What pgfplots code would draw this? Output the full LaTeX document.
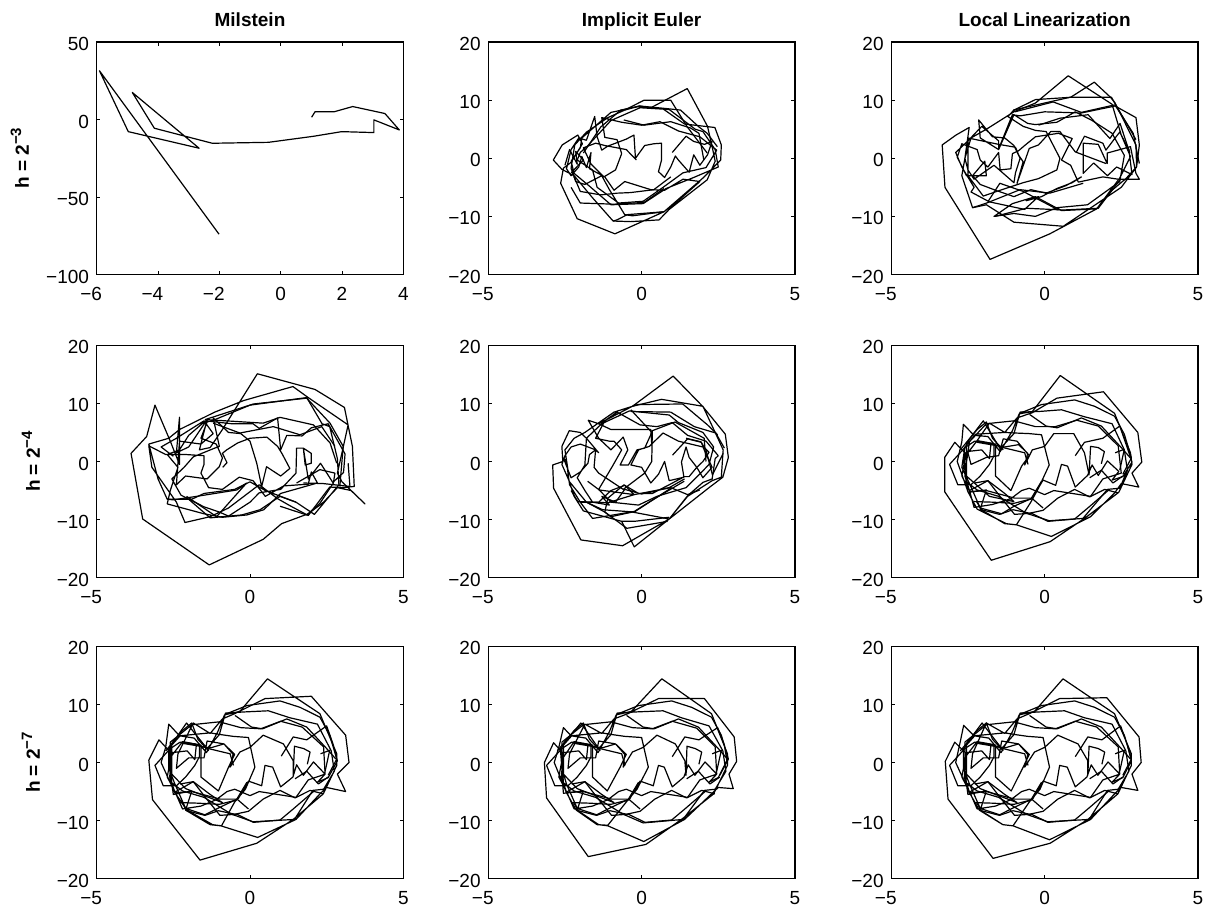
\documentclass[border=0pt]{standalone}
\usepackage{fontspec}
\setmainfont{Liberation Sans}
\usepackage{pgfplots}
\pgfplotsset{compat=1.18}
\pgfplotsset{
  panel/.style={
    scale only axis, width=306.6pt, height=232.4pt, anchor=south west,
    xmin=-5, xmax=5, ymin=-20, ymax=20,
    xtick={-5,0,5}, xticklabels={\llap{−}5,0,5},
    ytick={-20,-10,0,10,20}, yticklabels={−20,−10,0,10,20},
    tick align=inside, major tick length=3.5pt, tick style={black,line width=0.9pt},
    axis line style={line width=1.3pt},
    tick label style={font=\fontsize{19}{22}\selectfont},
    xticklabel style={anchor=north, inner sep=0pt, yshift=-12.5pt},
    yticklabel style={anchor=east, inner sep=0pt, xshift=-7.5pt, yshift=-2pt},
    title style={font=\fontsize{19}{22}\selectfont\bfseries, anchor=base, at={(axis description cs:0.5,1)}, yshift=9.5pt},
    every axis y label/.append style={at={(axis description cs:0,0.5)}, anchor=base},
    ylabel style={font=\fontsize{19}{22}\selectfont\bfseries},
  },
  tr/.style={black, line width=1.2pt, line join=round, mark=none}
}
\newcommand{\hl}[1]{h = 2\raisebox{0.42em}{\fontsize{15}{15}\selectfont −#1}}
\newcommand{\extraR}{%
\addplot[tr] coordinates {(-2.45,-5.2)(-1.9,-5)(-0.98,-6.3)(-0.43,-6.3)(-0.1,-3.4)};
\addplot[tr] coordinates {(-2.23,-6.8)(-2.06,-8.3)(-1.47,-9.1)(-1.03,-8.3)(-0.49,-8.9)(-0.05,-8.4)(0.43,-6.3)(0.98,-4.8)(1.47,-6.1)(1.96,-4.8)(2.39,-5.4)};
\addplot[tr] coordinates {(-2.28,-3.7)(-1.85,-3.3)(-1.41,-6.3)(-0.98,-9.1)(-0.43,-8.9)(0.11,-10.3)(0.98,-9.9)(1.41,-8)(2.07,-5)};
\addplot[tr] coordinates {(-2.6,2.4)(-2.28,3.5)(-1.8,3.2)(-1.36,2.4)(-0.65,1.5)(-0.54,-0.5)};
\addplot[tr] coordinates {(-0.49,8.1)(0.05,6.1)(0.41,5.8)(1.2,7.5)(1.85,6.1)(2.5,2.4)(2.8,0.6)};
\addplot[tr] coordinates {(-0.76,8.4)(-0.1,9.8)(0.98,10.6)(1.63,9.5)(2.28,7.8)(2.6,4.7)(2.83,0.6)(2.55,-2.2)};
\addplot[tr] coordinates {(1.47,-2.8)(1.85,-1.5)(2.23,-3.7)(2.55,-2.5)};
\addplot[tr] coordinates {(2.3,1.5)(2.6,2.1)(2.45,-1.5)};
\addplot[tr] coordinates {(-2.6,2.4)(-3.1,-0.5)(-2.83,-4)(-2.4,-4)(-2.1,-2.5)(-1.8,-0.5)(-1.65,1)(-1.65,3)};
\addplot[tr] coordinates {(-2.75,2)(-2.2,5.5)(-1.9,6.8)(-1.7,4)(-1.35,2)};
\addplot[tr] coordinates {(-2.3,-6.9)(-1.7,-7.0)(-1.0,-7.2)(-0.4,-6.4)(-0.05,-8)};
}
\begin{document}
\begin{tikzpicture}[x=1pt,y=1pt]
\path (0,0) rectangle (1215,908);

% ---------- row 1
\begin{axis}[panel, at={(96.7pt,633.5pt)}, xmin=-6, xmax=4, ymin=-100, ymax=50,
  xtick={-6,-4,-2,0,2,4}, xticklabels={\llap{−}6,\llap{−}4,\llap{−}2,0,2,4},
  ytick={-100,-50,0,50}, yticklabels={−100,−50,0,50}, title={Milstein},
  ylabel={\hl{3}}, every axis y label/.append style={yshift=67.7pt}]
\addplot[tr] coordinates {(1.01,1.5)(1.12,5)(1.74,5)(2.35,8.4)(3.4,3.9)(3.87,-6.7)(3.04,-0.2)(3.04,-8.4)(1.99,-7.8)(1.07,-10.8)(-0.4,-14.7)(-2.23,-15.3)(-4.12,-5.6)(-4.84,17.5)(-2.66,-18.5)(-4.97,-7.8)(-5.91,31.5)(-2.01,-74)};
\end{axis}

\begin{axis}[panel, at={(488.3pt,633.5pt)}, title={Implicit Euler}]
\addplot[tr] coordinates {(1.0,1)(1.45,3.8)(1.7,2.9)(2.05,2.4)(2.3,2.9)(2.15,0.6)(1.9,-1.2)(1.7,0.6)(1.55,-2.4)(1.2,-0.3)(1.1,0.4)(0.95,-1.5)(0.75,-3.3)(0.55,-2.3)(0.65,-0.3)(0.65,2.6)(0.4,2.5)(0.1,2.2)(-0.2,0.0)(-0.25,4)(-0.5,3.3)(-1.1,2.1)(-1.3,1.4)(-1.45,3.7)(-1.53,7.2)(-1.8,3.1)(-2.05,3.5)(-2.3,1.5)(-2.45,-1.8)(-2.3,-3.0)(-2.05,-1.5)(-1.95,0.3)(-1.8,-1.6)(-1.65,1.0)(-1.7,-1.8)(-1.2,-3.2)(-0.9,-5.5)(-0.55,-4.0)(0.3,-5.4)(0.75,-5.5)(1.35,-3.6)(1.9,-4.0)(1.3,-6.8)(0.73,-9.2)(-0.3,-9.9)(-0.55,-9.7)(-1.05,-5.4)(-1.3,-3.0)(-1.85,-4.5)(-2.15,-4.0)(-2.3,-1.7)(-2.18,2.3)(-1.8,4.5)(-1.1,7.0)(-0.55,8.3)(-0.07,9.0)(0.3,8.7)(1.49,12.0)(2.15,5.5)(2.3,2.0)(2.4,-0.5)(2.14,-3.7)(0.9,-8.8)(0.57,-10.6)(-0.35,-10.9)(-0.93,-10.8)(-1.6,-6.8)(-2.2,-3.0)(-2.6,-1.9)(-2.88,-0.3)(-2.59,2.3)(-2.08,4.0)(-1.93,2.5)(-2.3,-0.7)(-2.55,-1.7)(-2.64,-4.3)(-2.1,-10.4)(-0.87,-13.0)(0.73,-9.2)(2.0,-3.4)(2.58,-0.3)(2.6,2.3)(2.39,5.3)(1.4,5.9)(0.7,8.5)(-0.1,8.9)(-1.0,7.9)(-1.95,3.5)(-2.0,1.8)(-2.3,-0.5)(-2.2,-2.6)(-1.7,-4.8)(-1.0,-8.0)(0.05,-7.8)(0.8,-5.2)(1.7,-3.3)(2.5,-1.5)(2.4,1.5)(2.0,4.6)(1.75,5.0)(0.9,8.4)(-0.05,8.7)(-1.0,6.5)(-1.75,2.2)(-2.0,1.0)(-2.1,-0.3)(-1.6,-2.0)(-1.45,-5.0)(-0.75,-7.7)(0.05,-7.4)(0.7,-5.0)(1.35,-2.5)(2.1,-1.6)(2.45,1.4)(1.9,3.7)(1.2,4.7)(0.6,6.3)(0,5.7)(-0.65,6.2)(-1.3,7.0)(-1.2,3.6)(-0.8,3.2)(-0.65,0.8)(-0.85,-2)(-1.23,-3.2)(-1.65,-1.0)(-1.9,1.8)(-1.5,2.6)(-1.2,2.2)(-0.5,1.5)(-0.17,-0.3)};
\addplot[tr] coordinates {(-2.2,-3.2)(-2,-5.7)(-1.33,-6.3)(-0.79,-6)(-0.36,-5.9)(0.4,-5.4)(0.95,-3.2)};
\addplot[tr] coordinates {(-2.3,-5)(-2,-7.7)(-0.9,-7.9)(0.08,-7.6)(0.73,-5.2)};
\addplot[tr] coordinates {(-0.93,-10.8)(-0.8,-10.6)(-0.47,-9.7)(0.73,-9.2)};
\addplot[tr] coordinates {(-1.9,0.9)(-1.33,5.4)(-0.68,8.3)(-0.07,9)(0.73,8.6)(1.27,8.3)(1.87,5.4)(2.14,4.3)(2.47,2)};
\addplot[tr] coordinates {(-0.58,6.6)(0.08,5.7)(0.95,6.3)(1.6,5.2)(1.87,4.3)(2.03,-0.3)};
\addplot[tr] coordinates {(-0.55,8.3)(0.08,10)(0.95,10)(1.49,5.4)(2.14,0.9)};
\addplot[tr] coordinates {(-2.5,-1.2)(-2.35,1.5)(-2.1,-1)(-2.15,1.2)(-1.9,-0.3)(-2.3,-2.5)};
\end{axis}

\begin{axis}[panel, at={(891.3pt,633.5pt)}, title={Local Linearization}]
\addplot[tr] coordinates {(1.04,1.1)(1.3,3.8)(1.9,2.6)(2.0,1.4)(2.3,3.5)(2.45,4.5)(2.75,1.5)(2.85,-2.8)(2.35,-1.5)(2.05,-3.0)(1.6,-0.8)(1.26,-2.6)(1.26,2.6)(1.75,2.4)(2.04,-0.9)(2.04,0.9)(2.8,2)(2.98,-2.6)(3.09,-3.6)(2.4,-3.6)(1.9,-3.2)(1.1,-4.1)(0.85,-1.2)(0.55,-0.3)(0.9,3.4)(0.45,4.3)(-0.3,3.7)(-0.65,2.2)(-0.85,1.3)(-1.05,0.8)(-1.1,-1.8)(-1.45,-2.0)(-1.5,1)(-1.85,-1.5)(-2.1,-0.3)(-2.2,1.5)(-2.7,2.5)(-2.85,0.2)(-2.55,-3)(-1.9,-3.0)(-1.95,-0.5)(-2.35,-3.0)(-2.1,-4.5)(-1.6,-5.5)(-1.0,-6.6)(-0.45,-5.4)(0.05,-6.0)(0.7,-4.7)(1.2,-3.2)(0.9,-4.2)(0.4,-5.2)(-0.1,-6.6)(-0.6,-7.3)(-0.2,-6.6)(-0.55,-8.3)(-0.65,-8.8)(-1.8,-7.5)(-2.4,-5.8)(-2.3,-5)(-2.7,-1.5)(-2.9,1)(-2.5,3)(-2.05,5.5)(-1.5,3.0)(-1.5,1.6)(-1.05,7.5)(-0.8,7.3)(0.0,8.0)(1.2,7.8)(2.3,9.0)(2.98,7.0)(3.09,2.3)(3.0,-1.5)(2.65,-3.5)(2.2,-5.5)(1.7,-8.7)(0.55,-9.0)(-0.3,-6.6)(-1.05,-7.8)(-1.65,-10)(-1.0,-9.5)(-0.3,-10.0)(0.4,-8.5)(1.4,-8.0)(2.45,-4.0)(2.6,0.5)(2.2,4.3)(1.55,6.5)(1.0,8.0)(0.4,6.2)(-0.3,5.8)(-0.55,6.0)(-1.0,7.5)(-1.5,1.5)(-2.1,3.5)(-2.15,6.6)(-1.7,3.7)(-1.3,3.5)(-1.0,2.2)(-0.8,0)(-0.95,-2.5)(-1.0,-4.2)(-1.65,-1.2)(-2.3,-3.6)(-2.5,-2)(-2.6,0)(-2.46,5.3)(-2.89,4.0)(-3.34,2.3)(-3.25,-5.0)(-1.78,-17.4)(0.17,-13.0)(1.7,-8.7)(2.45,-3.4)(2.8,0.3)(2.5,4.0)(2.2,9.3)(0.77,14.2)(-0.3,9.5)(-1.0,8.0)(-1.9,5.0)(-2.4,3.5)(-2.6,0)(-2.7,-3)(-2.35,-8.5)(-1.9,-8.0)(-1.0,-11.0)(0.61,-11.7)(2.5,-5.0)(3.0,-1.5)(2.98,2.3)(2.3,9.5)(2.15,10.5)(1.62,13.1)(0.85,10.5)(-0.3,10.1)(-1.0,8.3)(-1.2,7.2)(-0.7,5.5)(-0.3,4.8)(0.05,4.6)(0.5,0)(0.4,-2.0)(-0.2,-3.5)(-0.7,-4.2)(-1.45,-5.5)(-2.0,-6.5)(-2.5,-3)(-2.5,3.5)(-1.5,2.4)(-0.95,1.9)(-0.84,0.5)(-0.7,-0.6)(-0.9,-4.3)(-0.5,1.7)(-0.2,2.3)(0.2,4.6)(0.5,4.6)(1.0,1.1)(2.0,-0.9)};
\addplot[tr] coordinates {(-0.97,8)(0.28,9.7)(1.2,7.9)(2.29,9.2)(2.89,4.3)(3.09,-0.9)};
\addplot[tr] coordinates {(-1.02,8.3)(0.83,10.5)(2.18,10.5)(2.98,3.2)};
\addplot[tr] coordinates {(-0.2,5.7)(0.5,6.9)(1.42,7.5)(2.13,3.4)(2.46,6)(2.78,0.9)};
\addplot[tr] coordinates {(-2.35,-8.5)(-1.89,-7.7)(-0.8,-5.4)(0.17,-6)(1.26,-4.3)};
\addplot[tr] coordinates {(-1.62,-10)(-0.59,-8.6)(0.61,-8.9)(1.75,-8.6)(2.46,-3.7)};
\addplot[tr] coordinates {(-1.84,-7.4)(-1.46,-4.3)(-0.7,-5.7)(0.45,-8.9)};
\end{axis}

% ---------- row 2
\begin{axis}[panel, at={(96.7pt,330.3pt)}, ylabel={\hl{4}}, every axis y label/.append style={yshift=56.7pt}]
\addplot[tr] coordinates {(-0.89,-1.0)(-0.75,-0.2)(-0.9,1.4)(-0.76,2)(-0.4,3.2)(0,4)(0.55,4.2)(0.9,2.6)(1.05,1.3)(1.3,-1.2)(1.0,-2.5)(0.54,-0.9)(0.38,-4.3)(0.22,-0.3)(0,3.5)(-0.3,4.8)(-0.7,5.0)(-1.2,7.5)(-1.0,2.6)(-1.2,2.2)(-1.85,0.8)(-2.15,-1)(-2.55,-3)(-2.25,-5.8)(-1.5,-7.8)(-1.0,-8.7)(-0.7,-9.4)(0,-7)(0.3,-5.4)(1.0,-4.8)(1.5,-2.0)(1.52,2.3)(1.74,2.3)(2.0,1.4)(2.0,-0.3)(1.8,-0.6)(1.74,2.3)(1.9,-3)(2.3,-0.3)(2.7,-3.6)(3.05,-1.9)(3.1,1.3)(2.55,6.5)(2.0,5.8)(1.7,4.4)(1.2,4.5)(1.0,2)(0.9,7.5)(0.3,5.7)(0.1,6.5)(-0.6,6.5)(-1.45,7.0)(-2.0,4.5)(-2.3,2)(-2.7,1.2)(-2.35,-1)(-2.6,-5)(-2.7,-7.3)(-1.5,-9)(-0.9,-9.6)(-0.1,-9.2)(0.45,-8.3)(1.0,-5.5)(2.2,-3.7)(2.0,-1.8)(1.9,-3.9)(1.1,-4.2)(0.5,-6)(0.1,-3.3)(-0.35,-2.7)(-0.9,-4.8)(-1.35,-4.5)(-1.6,-2)(-1.5,-0.5)(-1.5,1)(-2.1,1.2)(-2.75,1.2)(-3.3,2.7)(-3.2,-1)(-2.4,-7)(-2.12,-10.5)(-1.3,-9.5)(-0.7,-8.0)(0.3,-4.0)(0.9,-6.4)(1.3,-7.6)(1.9,-9.3)(2.6,-4.4)(3.0,-4.5)(3.4,-4.3)(3.34,2.6)(3.08,9.3)(2.12,12.4)(0.24,15.1)(-0.9,5.5)(-1.3,2.4)(-1.65,2.0)(-1.4,7.2)(-2.0,2.5)(-2.4,1.5)(-2.3,7.6)(-2.3,-0.5)(-2.6,3.5)(-3.1,9.7)(-3.37,4.3)(-3.88,1.4)(-3.5,-9.9)(-1.33,-17.8)(0.43,-13.4)(1.03,-10.7)(1.9,-9.0)(2.4,-7)(2.85,-4.5)(3.3,-5)(3.75,-7.3)(3.0,-3.5)(2.85,-2)(3.0,1.5)(3.2,6.3)(1.9,11)(1.4,12.9)(-0.2,10.5)(-1.15,8.5)(-2.3,5.5)(-2.65,4.0)(-3.3,3.0)(-3.0,-3)(-2.7,-6.5)(-1.9,-6.5)(-1.5,-5.5)(-0.5,-4.8)(0,-3.5)(0.5,-5)(1.5,-7)(2.1,-9.1)(2.9,-4)(2.85,0.5)(2.6,6.0)(2.35,6.5)(1.85,11)(0,9.7)(-1.15,7.2)(-1.4,6.8)(-1.6,4.0)(-1.1,3.0)(-0.9,0.6)(-1.0,-0.9)(-1.4,-3.0)(-2.1,-2.5)(-2.4,-4)(-2.3,3.5)(-1.6,3.0)(-1.2,4.8)(-1.5,7)(-2.4,4)(-2.9,2.5)(-2.5,0.9)};
\addplot[tr] coordinates {(-1.47,7.2)(0.11,9.9)(1.85,10.9)(2.61,6.6)(3.04,2.6)(2.93,-4.3)};
\addplot[tr] coordinates {(-1.41,7.2)(0.43,6.6)(0.98,7.6)(2.07,6.3)(2.61,3.2)(2.83,-0.3)};
\addplot[tr] coordinates {(-1.2,6.6)(-0.33,4.9)(0.76,6)(1.63,4.6)(2.34,6)(2.77,2.6)};
\addplot[tr] coordinates {(1.74,-3.7)(2.39,-3.8)(3.26,-4.3)(3.2,-0.3)};
\addplot[tr] coordinates {(1.52,-3.7)(2.28,-1.4)(2.77,-2)(2.72,-3.7)(2.28,-7.2)(1.85,-9.2)(0.98,-7.7)};
\addplot[tr] coordinates {(-2.7,-6.5)(-2.5,-6.6)(-1.74,-6)(-0.43,-4.9)(-0.11,-3.7)(-1.09,-9.5)(-2.07,-6)};
\addplot[tr] coordinates {(-2.0,-6.5)(-1.3,-9.7)(-0.27,-9.2)(0.33,-8.3)(0.98,-6)(1.5,-7)};
\end{axis}

\begin{axis}[panel, at={(488.3pt,330.3pt)}]
\addplot[tr] coordinates {(1.01,1.1)(1.5,3.9)(1.95,3.3)(2.0,2.6)(2.2,1.6)(2.0,0)(1.8,-1)(1.55,0.7)(1.45,2.5)(1.3,-0.1)(1.38,-2.7)(0.9,-3.3)(0.75,0)(0.55,-2.2)(0.3,-3.7)(0.0,-1)(-0.35,-0.6)(-0.1,2.0)(0.25,2.6)(0.7,4.9)(1.2,3.5)(2.0,2.5)(2.3,-1.0)(2.0,-2.8)(1.8,-1.0)(1.55,-2.6)(1.4,-2.6)(0.9,-4.0)(0.35,-5.5)(-0.1,-5.5)(-0.55,-4.1)(-1.0,-5.0)(-1.4,-7.0)(-2.0,-7)(-2.35,-4)(-2.45,0)(-2.55,0.6)(-2.3,-2.8)(-2.0,-1.8)(-1.75,-0.3)(-1.7,1.2)(-1.5,2.0)(-1.4,1.5)(-1.8,4.0)(-2.0,5.0)(-2.36,5.3)(-2.6,2.6)(-2.57,0)(-2.9,-0.6)(-2.87,-4.6)(-1.98,-13.5)(-0.62,-14.5)(0.9,-9.9)(2.2,-4.5)(2.65,-2.7)(2.83,0.7)(2.73,4.7)(1.99,9.5)(1.03,14.7)(-0.3,9.5)(-0.9,8.5)(-1.85,5.0)(-2.2,4.0)(-2.5,2.0)(-2.4,-1.5)(-2.4,-2.8)(-2.2,-6)(-1.9,-8.5)(-0.65,-10.3)(-0.24,-14.7)(0.9,-9.9)(1.5,-6.0)(2.3,-3.3)(2.6,-2.7)(2.66,2.0)(2.4,5.0)(2.0,9.5)(0.65,10.7)(-0.3,9.5)(-1.4,6.5)(-1.74,7.1)(-1.4,4.0)(-1.0,2.0)(-0.6,4.2)(-0.45,2)(-0.7,-0.6)(-0.43,-0.6)(-0.15,2.0)(0.1,2.3)(0.35,5.2)(0.33,0)(0.1,-2.0)(-0.6,-4.8)(-1.4,-2.0)(-1.55,-1)(-1.5,2)(-2.0,3.0)(-2.3,2.5)(-2.5,1.0)(-2.6,-0.5)(-2.35,-3.5)(-1.8,-7)(-1.2,-8.7)(-1.0,-9.5)(-0.3,-8.7)(0.9,-9.9)(1.5,-5.9)(2.0,-3.6)(2.3,-3.0)(2.4,0.5)(2.5,1.0)(2.1,3.5)(1.5,4.5)(1.0,6.7)(0.5,6.0)(-0.05,6.3)(-0.8,8.5)(-1.2,7.0)(-1.5,4.0)(-1.05,3.5)(-0.9,3.5)(-0.65,2.0)(-0.95,-0.8)(-1.4,-4.8)(-1.0,-7.0)(-0.1,-7.5)(0.5,-6.0)(1.45,-4.5)(2.0,-1.6)(2.2,-0.5)(2.35,2.5)(2.0,5.0)(1.2,6.7)(0.9,8.0)(-0.4,8.7)(-1.3,6.5)(-1.8,4.0)(-1.85,-0.6)(-2.1,-2.8)(-1.85,-5.0)(-1.6,-7.0)(-1.05,-7.5)(-1.3,-6.0)(-0.85,-7.0)(-0.55,-4.8)(0.0,-5.6)(0.9,-4.5)(1.4,-3.0)};
\addplot[tr] coordinates {(-2.3,-5)(-2.08,-6.9)(-1.1,-7.1)(-0.24,-5.7)(0.95,-4.5)(1.5,-5.7)(1.9,-4.9)};
\addplot[tr] coordinates {(-2.0,-7)(-1.6,-9.8)(-0.24,-8.6)(0.36,-6.6)(1.39,-3.4)};
\addplot[tr] coordinates {(-1.8,-7)(-1.27,-8.3)(-0.24,-8.7)(0.95,-4.6)};
\addplot[tr] coordinates {(-1.2,-8.7)(-0.48,-11.5)(0.85,-10.3)};
\addplot[tr] coordinates {(-0.65,-10.3)(-0.24,-10.3)(0.9,-9.6)};
\addplot[tr] coordinates {(-1.76,-3.4)(-1.38,-4.9)(-0.24,-5.7)(-0.57,-4)(-1.1,-6.3)(-1.2,-8.7)};
\addplot[tr] coordinates {(-0.35,8.6)(0.95,8.5)(1.72,6)(2.42,4.9)(2.7,2.3)};
\addplot[tr] coordinates {(-0.35,8.9)(0.3,5.2)(1.09,6.8)(2.04,4)(2.1,0)};
\addplot[tr] coordinates {(-1.4,6.5)(-1,5.5)(0.3,5.5)(0.33,3)};
\addplot[tr] coordinates {(-0.3,9.5)(-0.13,9.8)(1.34,9.9)(2.15,6.3)(2.48,4.6)};
\addplot[tr] coordinates {(1.45,4)(1.93,3.4)(2.1,2)(2.31,-2.3)(2.66,1.4)};
\end{axis}

\begin{axis}[panel, at={(891.3pt,330.3pt)}]
\addplot[tr] coordinates {(1.0,1.0)(1.3,3.3)(1.9,4.0)(2.45,6.1)(2.72,2.0)(2.85,-0.1)(2.55,-2.6)(2.2,-3.2)(2.42,-1.7)(2.05,0.1)(1.75,-2.4)(1.55,-0.6)(1.4,-2.4)(1.0,-4.4)(0.75,-0.8)(0.55,-0.5)(0.36,-4.1)(-0.05,-3.2)(-0.4,-6.3)(-1.0,-7.7)(-1.4,-9.0)(-2.1,-8.0)(-2.45,-3.8)(-2.7,-1.0)(-2.6,2.5)(-2.25,4.7)(-1.3,5.0)(-0.95,4.9)(-0.5,4.8)(-0.1,4.6)(0.15,-0.6)(-0.2,-4.6)(-0.45,-7.0)(-0.92,-10.9)(-1.25,-10.7)(-2.2,-8.2)(-2.5,-5.2)(-2.85,0.0)(-2.7,3.4)(-2.65,6.4)(-2.3,4.5)(-1.85,4.3)(-1.45,1.7)(-1.05,5.3)(-0.83,8.2)(-0.4,8.6)(0.51,14.8)(2.28,8.3)(2.8,1.5)(2.85,-0.5)(2.42,-5.3)(1.3,-9.8)(0.18,-13.8)(-1.74,-17.0)(-3.26,-5.2)(-3.26,0.7)(-2.93,3.3)(-2.6,1.5)(-2.6,-2.5)(-2.45,-5.0)(-1.85,-3.3)(-1.3,-5.5)(-1.0,-6.9)(-1.8,-6.0)(-2.55,-2.5)(-2.55,3.2)(-2.0,7.0)(-1.45,2.2)(-1.0,4.8)(-0.8,8.5)(-0.2,8.6)(0.55,8.9)(1.3,7.7)(2.2,6.5)(2.6,2.0)(2.7,-1.5)(2.45,-4.6)(2.05,-4.8)(1.25,-9.8)(0.15,-10.2)(-0.6,-8.9)(-1.5,-6.0)(-2.2,-4.9)(-2.55,-3.5)(-2.65,0.5)(-2.2,3.6)(-1.6,3.0)(-1.6,-2.5)(-1.1,-5.0)(-0.75,-0.8)(-0.5,1.0)(-0.9,3.5)(-1.35,3.9)(-1.5,1.0)(-1.9,0.7)(-2.4,-0.5)(-2.5,1.5)(-2.2,3.6)(-1.8,6.6)(-1.3,5.0)(-0.9,7.5)(-0.4,8.4)(0.4,10.9)(1.92,12.0)(3.04,5.0)(3.17,-0.1)(2.85,-2.0)(3.07,-4.4)(2.5,-3.8)(2.3,-5.3)(1.5,-9.5)(0.22,-12.9)(-0.92,-10.9)(-1.3,-10.7)(-2.1,-8.2)(-1.9,-4.9)(-2.5,-5.3)(-2.6,-2.0)(-2.45,3.4)(-1.9,6.5)(-1.0,7.0)(-0.3,6.0)(0.35,6.0)(1.05,7.1)(1.75,6.1)(2.4,2.7)(2.5,-2.0)(1.9,-3.0)(1.5,-6.0)(0.3,-5.0)(0.0,-5.7)(-0.5,-4.6)(-0.75,-5.0)(-1.1,-6.4)(-1.7,-7.4)(-2.3,-7.9)(-2.45,-5.0)(-2.7,-2.5)(-2.55,1.7)(-2.05,2.0)(-1.8,0.5)(-1.75,3.0)(-2.2,3.3)(-1.3,2.5)(-0.85,2.9)(-0.55,1.4)(-0.65,-0.6)(-0.4,2.0)(0.0,2.6)(0.3,4.8)(0.95,4.8)(1.3,1.5)(1.45,-2.3)(1.5,2.6)(1.75,2.4)(1.95,1.7)(1.85,-0.4)};
\extraR
\end{axis}

% ---------- row 3
\begin{axis}[panel, at={(96.7pt,29.3pt)}, ylabel={\hl{7}}, every axis y label/.append style={yshift=56.7pt}]
\addplot[tr] coordinates {(1.02,1.1)(1.41,4.4)(1.85,3.9)(2.5,6.3)(2.72,3.0)(2.85,0.3)(2.55,-2.6)(2.2,-3.4)(2.45,-2.0)(2.07,0.1)(1.74,-2.2)(1.52,-0.4)(1.4,-2.5)(1.0,-4.2)(0.74,-0.8)(0.49,-0.5)(0.38,-4.0)(-0.05,-3.2)(-0.38,-6.2)(-0.98,-7.7)(-1.47,-9.0)(-2.1,-7.9)(-2.45,-3.7)(-2.65,-1.0)(-2.65,2.4)(-2.28,4.6)(-1.3,5.1)(-0.95,4.8)(-0.55,4.5)(-0.05,4.3)(0.16,-0.8)(-0.15,-4.6)(-0.5,-6.8)(-0.93,-10.9)(-1.22,-10.7)(-2.05,-8.2)(-2.45,-5.2)(-2.9,0.0)(-2.75,2.6)(-2.65,6.6)(-2.3,4.6)(-1.82,4.2)(-1.42,1.7)(-1.05,5.3)(-0.83,8.2)(-0.33,8.8)(0.57,14.4)(2.28,8.4)(2.83,1.5)(2.83,-0.5)(2.39,-5.4)(1.41,-9.8)(0.22,-13.9)(-1.63,-16.8)(-3.18,-6.4)(-3.3,0.4)(-2.97,3.9)(-2.55,1.5)(-2.62,-2.5)(-2.45,-5.1)(-1.85,-3.3)(-1.3,-5.5)(-0.9,-6.9)(-2.1,-4.5)(-2.55,-2.0)(-2.55,3.2)(-2.07,6.8)(-1.40,2.4)(-1.0,4.8)(-0.8,8.5)(-0.2,8.7)(0.6,8.9)(1.3,7.7)(2.2,6.6)(2.65,2.0)(2.75,-1.5)(2.4,-4.6)(2.05,-4.8)(1.45,-9.8)(0.1,-10.2)(-0.6,-8.9)(-1.5,-6.0)(-2.2,-4.9)(-2.55,-3.5)(-2.65,0.5)(-2.2,3.6)(-1.6,3.0)(-1.6,-2.5)(-1.03,-4.9)(-0.7,-0.8)(-0.5,1.4)(-0.85,3.2)(-1.4,3.7)(-1.5,0.8)(-2.0,0.8)(-2.4,-1.0)(-2.35,1.5)(-1.85,6.8)(-1.3,5.0)(-0.9,7.5)(-0.5,8.4)(0.49,11.0)(2.0,11.4)(3.12,4.7)(3.23,0.0)(2.85,-2.0)(3.12,-5.0)(2.5,-4.3)(2.3,-5.3)(1.5,-9.8)(0.25,-12.9)(-0.95,-10.9)(-1.3,-10.7)(-2.1,-8.2)(-1.9,-4.9)(-2.5,-5.5)(-2.6,-2.0)(-2.6,3.5)(-1.9,6.5)(-1.0,7.0)(-0.3,6.0)(0.35,5.8)(1.0,7.1)(1.7,6.1)(2.4,2.7)(2.45,-2.0)(1.9,-3.0)(1.5,-6.0)(0.3,-5.0)(0.0,-5.7)(-0.5,-4.6)(-0.75,-5.0)(-1.1,-6.4)(-1.6,-7.5)(-2.2,-8.0)(-2.45,-5.0)(-2.7,-2.5)(-2.55,1.7)(-2.05,2.0)(-1.8,0.5)(-1.75,3.0)(-2.2,3.3)(-1.3,2.5)(-0.85,3.2)(-0.55,1.4)(-0.65,-0.8)(-0.33,1.8)(0.0,2.6)(0.43,4.7)(1.09,3.2)(1.41,0.3)(1.41,-2.2)(1.45,2.8)(1.75,2.4)(1.96,1.8)(1.87,-0.3)};
\extraR
\end{axis}

\begin{axis}[panel, at={(488.3pt,29.3pt)}]
\addplot[tr] coordinates {(1.0,1.0)(1.41,4.4)(1.87,3.9)(2.48,6.0)(2.7,3.0)(2.78,0.3)(2.5,-2.6)(2.2,-3.4)(2.45,-2.0)(2.07,0.1)(1.74,-2.2)(1.52,-0.4)(1.38,-2.5)(1.0,-4.2)(0.74,-0.8)(0.55,-0.5)(0.38,-4.0)(-0.05,-3.2)(-0.38,-6.2)(-0.98,-7.7)(-1.47,-9.0)(-2.1,-7.9)(-2.45,-3.7)(-2.6,-1.0)(-2.65,2.4)(-2.28,4.6)(-1.3,5.1)(-0.95,4.8)(-0.55,4.5)(-0.0,4.3)(0.22,-0.8)(-0.15,-4.6)(-0.5,-6.8)(-1.1,-10.8)(-1.45,-10.7)(-2.13,-8.2)(-2.45,-5.2)(-2.85,0.0)(-2.7,2.6)(-2.55,6.0)(-2.3,4.6)(-1.82,4.2)(-1.42,1.7)(-1.05,5.3)(-0.83,8.2)(-0.33,8.8)(0.66,14.4)(2.28,8.4)(2.8,1.5)(2.8,-0.5)(2.35,-5.4)(1.3,-9.8)(0.14,-14.1)(-1.74,-16.2)(-3.1,-6.1)(-3.17,0.0)(-2.87,3.4)(-2.55,1.5)(-2.62,-2.5)(-2.45,-5.1)(-1.85,-3.3)(-1.3,-5.5)(-0.9,-6.9)(-2.1,-4.5)(-2.55,-2.0)(-2.55,3.2)(-1.98,6.8)(-1.40,2.4)(-1.0,4.8)(-0.8,8.5)(-0.2,8.7)(0.7,8.9)(1.3,7.7)(2.2,6.3)(2.65,2.0)(2.75,-1.5)(2.4,-4.6)(2.05,-4.8)(1.35,-9.8)(0.05,-10.4)(-0.6,-8.9)(-1.5,-6.0)(-2.2,-4.9)(-2.55,-3.5)(-2.6,0.5)(-2.2,3.6)(-1.6,3.0)(-1.6,-2.5)(-1.12,-4.9)(-0.7,-0.8)(-0.5,1.4)(-0.85,3.2)(-1.4,3.7)(-1.5,0.8)(-2.0,0.8)(-2.4,-1.0)(-2.35,1.5)(-1.85,6.6)(-1.3,5.0)(-0.9,7.5)(-0.45,8.4)(0.55,11.0)(2.05,11.0)(3.02,4.4)(3.1,0.2)(2.85,-2.0)(2.99,-4.5)(2.5,-4.3)(2.3,-5.3)(1.4,-9.8)(0.07,-13.6)(-1.1,-10.9)(-1.4,-10.7)(-2.1,-8.2)(-1.9,-4.9)(-2.55,-5.3)(-2.6,-2.0)(-2.6,3.5)(-1.9,6.5)(-1.0,7.0)(-0.3,6.0)(0.35,5.8)(1.0,7.1)(1.8,5.9)(2.4,2.7)(2.45,-2.0)(1.9,-3.0)(1.5,-6.0)(0.3,-5.0)(0.0,-5.7)(-0.5,-4.6)(-0.75,-5.0)(-1.1,-6.4)(-1.6,-7.5)(-2.2,-8.0)(-2.45,-5.0)(-2.7,-2.5)(-2.55,1.7)(-2.05,2.0)(-1.8,0.5)(-1.75,3.0)(-2.2,3.3)(-1.3,2.5)(-0.85,3.2)(-0.55,1.4)(-0.6,-0.8)(-0.3,1.8)(0.05,2.6)(0.5,4.7)(1.1,3.2)(1.41,0.3)(1.45,-2.2)(1.48,2.8)(1.75,2.4)(1.96,1.8)(1.87,-0.3)};
\extraR
\end{axis}

\begin{axis}[panel, at={(891.3pt,29.3pt)}]
\addplot[tr] coordinates {(1.0,1.0)(1.41,4.4)(1.87,3.9)(2.48,6.3)(2.7,3.0)(2.83,0.3)(2.55,-2.6)(2.2,-3.4)(2.45,-2.0)(2.07,0.1)(1.74,-2.2)(1.52,-0.4)(1.38,-2.5)(1.0,-4.2)(0.74,-0.8)(0.49,-0.5)(0.38,-4.0)(-0.05,-3.2)(-0.38,-6.2)(-0.98,-7.7)(-1.47,-9.0)(-2.1,-7.9)(-2.45,-3.7)(-2.65,-1.0)(-2.65,2.4)(-2.28,4.6)(-1.3,5.1)(-0.95,4.8)(-0.55,4.5)(-0.05,4.3)(0.16,-0.8)(-0.15,-4.6)(-0.5,-6.8)(-1.03,-10.9)(-1.36,-10.7)(-2.13,-8.2)(-2.45,-5.2)(-2.9,0.0)(-2.75,3.6)(-2.64,6.4)(-2.3,4.6)(-1.82,4.2)(-1.42,1.7)(-1.05,5.3)(-0.83,8.2)(-0.33,8.8)(0.6,14.4)(2.28,8.4)(2.83,1.5)(2.83,-0.5)(2.39,-5.4)(1.41,-9.8)(0.18,-13.9)(-1.68,-16.5)(-3.15,-6.3)(-3.24,0.2)(-2.93,3.5)(-2.55,1.5)(-2.62,-2.5)(-2.45,-5.1)(-1.85,-3.3)(-1.3,-5.5)(-0.9,-6.9)(-2.1,-4.5)(-2.55,-2.0)(-2.55,3.2)(-2.04,6.8)(-1.40,2.4)(-1.0,4.8)(-0.8,8.5)(-0.2,8.7)(0.65,8.9)(1.3,7.7)(2.2,6.6)(2.65,2.0)(2.75,-1.5)(2.4,-4.6)(2.05,-4.8)(1.45,-9.8)(0.1,-10.2)(-0.6,-8.9)(-1.5,-6.0)(-2.2,-4.9)(-2.55,-3.5)(-2.65,0.5)(-2.2,3.6)(-1.6,3.0)(-1.6,-2.5)(-1.09,-4.9)(-0.7,-0.8)(-0.5,1.4)(-0.85,3.2)(-1.4,3.7)(-1.5,0.8)(-2.0,0.8)(-2.4,-1.0)(-2.35,1.5)(-1.9,6.8)(-1.3,5.0)(-0.9,7.5)(-0.5,8.4)(0.49,11.0)(2.03,11.15)(3.08,4.4)(3.15,0.0)(2.85,-2.0)(3.04,-4.8)(2.5,-4.3)(2.3,-5.3)(1.5,-9.8)(0.16,-13.3)(-1.03,-10.9)(-1.36,-10.7)(-2.1,-8.2)(-1.9,-4.9)(-2.5,-5.5)(-2.6,-2.0)(-2.6,3.5)(-1.9,6.5)(-1.0,7.0)(-0.3,6.0)(0.35,5.8)(1.0,7.1)(1.7,6.1)(2.4,2.7)(2.45,-2.0)(1.9,-3.0)(1.5,-6.0)(0.3,-5.0)(0.0,-5.7)(-0.5,-4.6)(-0.75,-5.0)(-1.1,-6.4)(-1.6,-7.5)(-2.2,-8.0)(-2.45,-5.0)(-2.7,-2.5)(-2.55,1.7)(-2.05,2.0)(-1.8,0.5)(-1.75,3.0)(-2.2,3.3)(-1.3,2.5)(-0.85,3.2)(-0.55,1.4)(-0.65,-0.8)(-0.33,1.8)(0.0,2.6)(0.43,4.7)(1.09,3.2)(1.41,0.3)(1.41,-2.2)(1.45,2.8)(1.75,2.4)(1.96,1.8)(1.87,-0.3)};
\extraR
\end{axis}
\end{tikzpicture}
\end{document}
